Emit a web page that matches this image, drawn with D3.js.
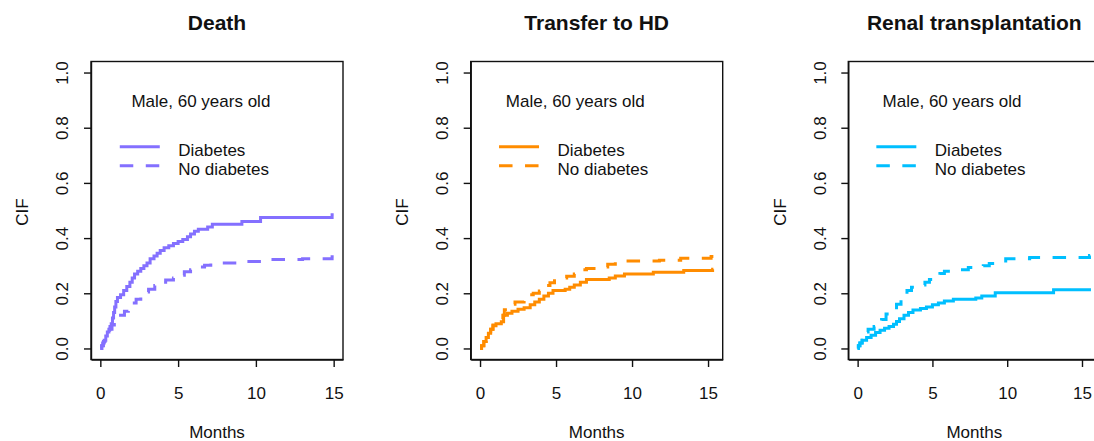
<!DOCTYPE html>
<html>
<head>
<meta charset="utf-8">
<script src="https://cdn.jsdelivr.net/npm/d3@7"></script>
<style>
  html, body { margin: 0; padding: 0; background: #fff; }
  svg { display: block; font-family: "Liberation Sans", Arial, sans-serif; }
</style>
</head>
<body>
<svg id="chart" width="1094" height="441"></svg>
<script>
// Cumulative incidence (CIF) step curves, [months, cif], male aged 60
const deathDiabetes = [[0,0],[0.08,0.01],[0.15,0.02],[0.25,0.03],[0.35,0.045],[0.45,0.06],[0.55,0.07],[0.62,0.08],[0.7,0.09],[0.78,0.11],[0.85,0.13],[0.92,0.15],[1.0,0.17],[1.1,0.185],[1.3,0.195],[1.5,0.21],[1.7,0.225],[1.9,0.24],[2.05,0.255],[2.2,0.27],[2.4,0.28],[2.6,0.29],[2.8,0.3],[3.0,0.31],[3.2,0.325],[3.45,0.335],[3.65,0.345],[3.85,0.355],[4.1,0.365],[4.4,0.372],[4.7,0.38],[5.0,0.388],[5.3,0.395],[5.6,0.405],[5.8,0.415],[6.05,0.425],[6.3,0.432],[6.9,0.44],[7.2,0.45],[9.1,0.46],[10.3,0.475],[14.9,0.485],[15,0.485]];
const deathNoDiabetes = [[0,0],[0.1,0.01],[0.2,0.025],[0.3,0.04],[0.45,0.055],[0.6,0.07],[0.75,0.085],[0.9,0.1],[1.05,0.11],[1.3,0.12],[1.55,0.135],[1.8,0.15],[2.05,0.165],[2.3,0.178],[2.6,0.19],[2.9,0.205],[3.1,0.215],[3.5,0.228],[3.9,0.24],[4.2,0.248],[4.7,0.255],[5.0,0.265],[5.4,0.278],[5.8,0.285],[6.3,0.295],[6.7,0.302],[7.1,0.31],[9.3,0.315],[11.0,0.322],[13.0,0.325],[14.9,0.332],[15,0.332]];

const hdDiabetes = [[0,0],[0.1,0.01],[0.25,0.025],[0.4,0.04],[0.55,0.055],[0.7,0.07],[0.85,0.082],[1.05,0.09],[1.4,0.097],[1.55,0.12],[1.8,0.128],[2.1,0.135],[2.5,0.142],[2.9,0.148],[3.3,0.158],[3.6,0.168],[3.9,0.178],[4.2,0.19],[4.5,0.2],[4.8,0.21],[5.6,0.215],[5.9,0.222],[6.2,0.23],[6.6,0.24],[7.0,0.25],[8.5,0.255],[8.9,0.263],[9.5,0.27],[11.4,0.276],[13.4,0.283],[15.3,0.287],[15.35,0.287]];
const hdNoDiabetes = [[0,0],[0.1,0.01],[0.25,0.025],[0.4,0.04],[0.55,0.055],[0.7,0.07],[0.85,0.085],[1.0,0.09],[1.4,0.1],[1.5,0.12],[1.6,0.14],[2.1,0.16],[2.3,0.168],[2.9,0.175],[3.3,0.195],[3.5,0.2],[3.9,0.208],[4.3,0.228],[4.6,0.238],[4.9,0.245],[5.4,0.255],[5.7,0.262],[6.2,0.27],[6.7,0.285],[7.0,0.29],[7.9,0.295],[8.4,0.305],[8.9,0.313],[9.4,0.317],[11.8,0.32],[13.2,0.327],[15.2,0.333],[15.35,0.333]];

const rtDiabetes = [[0,0],[0.05,0.01],[0.15,0.02],[0.3,0.03],[0.6,0.04],[0.9,0.048],[1.2,0.058],[1.5,0.066],[1.8,0.073],[2.1,0.08],[2.4,0.088],[2.6,0.098],[2.8,0.108],[3.1,0.12],[3.4,0.13],[3.7,0.139],[4.2,0.145],[4.6,0.15],[5.0,0.158],[5.4,0.165],[5.8,0.172],[6.4,0.178],[7.9,0.183],[8.3,0.19],[9.2,0.202],[13.1,0.213],[15.6,0.213]];
const rtNoDiabetes = [[0,0],[0.05,0.01],[0.15,0.02],[0.3,0.03],[0.5,0.06],[0.7,0.07],[1.1,0.08],[1.4,0.09],[1.6,0.105],[1.9,0.125],[2.3,0.14],[2.6,0.16],[2.9,0.175],[3.1,0.19],[3.3,0.21],[3.6,0.222],[4.0,0.23],[4.5,0.24],[4.8,0.25],[5.1,0.26],[5.5,0.272],[5.8,0.28],[6.9,0.285],[7.4,0.293],[8.4,0.3],[8.8,0.308],[9.9,0.325],[11.5,0.33],[15.5,0.337],[15.6,0.337]];

const panelTitles = ["Death", "Transfer to HD", "Renal transplantation"];
const panelColors = ["#8470FF", "#FF8C00", "#00BFFF"];
const panelMaxTime = [15, 15.35, 15.6];
const seriesNames = ["Diabetes", "No diabetes"];
const subgroupLabel = "Male, 60 years old";
const xTicks = [0, 5, 10, 15];
const yTicks = [0, 0.2, 0.4, 0.6, 0.8, 1.0];
const xLabel = "Months";
const yLabel = "CIF";

const panelSeries = [
  [deathDiabetes, deathNoDiabetes],
  [hdDiabetes, hdNoDiabetes],
  [rtDiabetes, rtNoDiabetes]
];

// layout
const boxLefts = [91, 470.7, 848.3];
const boxWidth = 252, boxTop = 61.5, boxBottom = 359.5;
const noteX = [2.0, 1.7, 1.67];   // annotation start, in months
const legendX = 1.25;             // legend line start, in months
const ink = "#111";
const dash = "13.5,12.5";

const svg = d3.select("#chart");

panelTitles.forEach((title, i) => {
  const left = boxLefts[i];
  const xmax = panelMaxTime[i];
  const x = d3.scaleLinear().domain([-0.04 * xmax, 1.04 * xmax]).range([left, left + boxWidth]);
  const y = d3.scaleLinear().domain([-0.04, 1.04]).range([boxBottom, boxTop]);
  const color = panelColors[i];
  const g = svg.append("g");

  // curves
  const line = d3.line().x(d => x(d[0])).y(d => y(d[1])).curve(d3.curveStepAfter);
  panelSeries[i].forEach((s, k) => {
    g.append("path")
      .datum(s)
      .attr("d", line)
      .attr("fill", "none")
      .attr("stroke", color)
      .attr("stroke-width", 3)
      .attr("stroke-dasharray", k === 1 ? dash : null);
  });

  // frame
  g.append("rect")
    .attr("x", left).attr("y", boxTop)
    .attr("width", boxWidth).attr("height", boxBottom - boxTop)
    .attr("fill", "none").attr("stroke", ink).attr("stroke-width", 1.4);

  // y axis
  const ya = g.append("g").attr("transform", `translate(${left},0)`)
    .call(d3.axisLeft(y).tickValues(yTicks).tickFormat(d3.format(".1f")).tickSize(7).tickSizeOuter(0));
  ya.select(".domain").attr("stroke", ink).attr("stroke-width", 1.4);
  ya.selectAll(".tick line").attr("stroke", ink).attr("stroke-width", 1.4);
  ya.selectAll(".tick text")
    .attr("x", null).attr("dy", null)
    .attr("text-anchor", "middle")
    .attr("transform", "translate(-22.7,0) rotate(-90)")
    .attr("font-size", 17).attr("fill", ink)
    .attr("font-family", "Liberation Sans, Arial, sans-serif");

  // x axis
  const xa = g.append("g").attr("transform", `translate(0,${boxBottom})`)
    .call(d3.axisBottom(x).tickValues(xTicks).tickFormat(d3.format("d")).tickSize(7.5).tickSizeOuter(0));
  xa.select(".domain").attr("stroke", ink).attr("stroke-width", 1.4);
  xa.selectAll(".tick line").attr("stroke", ink).attr("stroke-width", 1.4);
  xa.selectAll(".tick text")
    .attr("y", 39).attr("dy", null)
    .attr("font-size", 17).attr("fill", ink)
    .attr("font-family", "Liberation Sans, Arial, sans-serif");

  // titles and axis labels
  const cx = left + boxWidth / 2;
  g.append("text").attr("x", cx).attr("y", 29.5).attr("text-anchor", "middle")
    .attr("font-size", 21).attr("font-weight", "bold").attr("fill", ink).text(title);
  g.append("text").attr("x", cx).attr("y", 438).attr("text-anchor", "middle")
    .attr("font-size", 17).attr("fill", ink).text(xLabel);
  g.append("text").attr("transform", `translate(${left - 62.7},212) rotate(-90)`)
    .attr("text-anchor", "middle").attr("font-size", 17).attr("fill", ink).text(yLabel);

  // annotation
  g.append("text").attr("x", x(noteX[i])).attr("y", 107.3)
    .attr("font-size", 17).attr("fill", ink).text(subgroupLabel);

  // legend
  const lx = x(legendX);
  seriesNames.forEach((name, k) => {
    const ly = 146.7 + k * 19;
    g.append("line")
      .attr("x1", lx).attr("x2", lx + 40).attr("y1", ly).attr("y2", ly)
      .attr("stroke", color).attr("stroke-width", 3)
      .attr("stroke-dasharray", k === 1 ? dash : null);
    g.append("text").attr("x", lx + 58.5).attr("y", 156 + k * 19)
      .attr("font-size", 17).attr("fill", ink).text(name);
  });
});
</script>
</body>
</html>
